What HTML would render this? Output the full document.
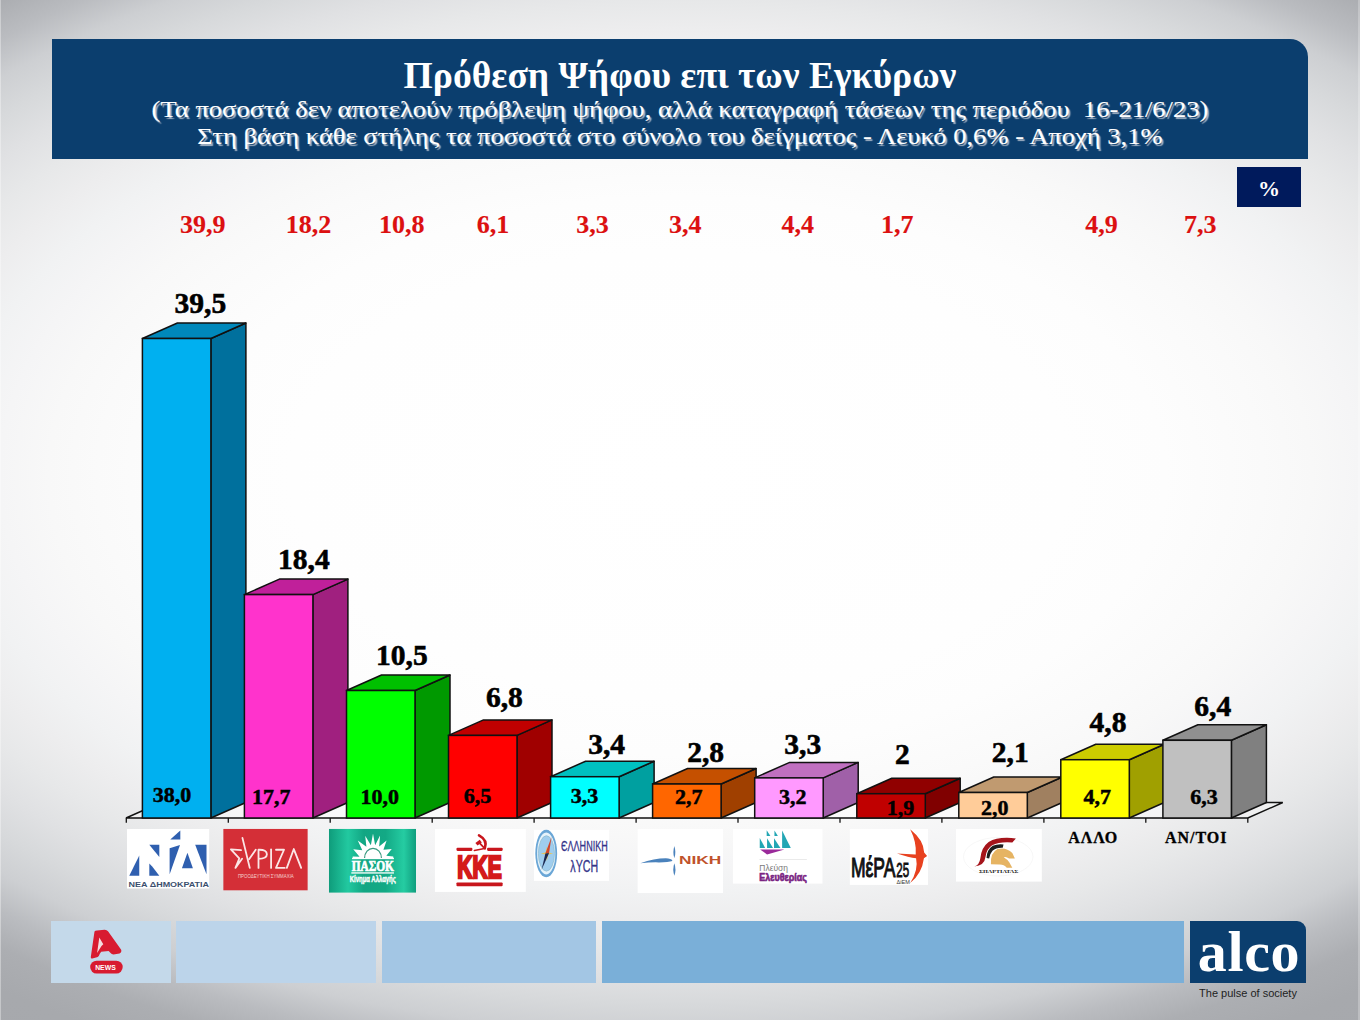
<!DOCTYPE html>
<html><head><meta charset="utf-8">
<style>
html,body{margin:0;padding:0;}
body{width:1360px;height:1020px;overflow:hidden;position:relative;
background:radial-gradient(ellipse 971px 557px at 680px 475px,rgb(255,255,255) 0%,rgb(254,254,254) 40%,rgb(253,253,253) 50%,rgb(250,250,250) 60%,rgb(248,248,248) 65%,rgb(245,245,246) 70%,rgb(241,242,243) 75%,rgb(237,237,238) 80%,rgb(231,232,233) 85%,rgb(224,225,227) 90%,rgb(215,217,219) 95%,rgb(205,207,210) 100%,rgb(186,188,192) 105%,rgb(172,174,178) 110%,rgb(167,169,173) 116%,rgb(166,168,172) 130%);
font-family:"Liberation Serif",serif;}
.abs{position:absolute;}
#tbox{left:52px;top:39px;width:1256px;height:120px;background:#0b3e6e;border-top-right-radius:18px;}
.tt{position:absolute;left:0;width:1360px;text-align:center;color:#fff;white-space:pre;}
#t1{top:54px;font-size:37.6px;font-weight:bold;}
#t2{top:96px;font-size:23.5px;transform:scaleX(1.13);transform-origin:680px 0;-webkit-text-stroke:0.1px #fff;text-shadow:1.5px 1.5px 1px rgba(195,202,214,0.85);}
#t3{top:123px;font-size:23.5px;transform:scaleX(1.13);transform-origin:680px 0;-webkit-text-stroke:0.1px #fff;text-shadow:1.5px 1.5px 1px rgba(195,202,214,0.85);}
#pct{left:1237px;top:167px;width:64px;height:40px;background:#001a5c;color:#fff;font-weight:bold;font-size:22px;text-align:center;line-height:43px;}
svg text.tl{font-family:"Liberation Serif",serif;font-weight:bold;font-size:29.5px;fill:#000;stroke:#000;stroke-width:0.6px;}
svg text.bl{font-family:"Liberation Serif",serif;font-weight:bold;font-size:22px;fill:#000;stroke:#000;stroke-width:0.5px;}
svg text.red{font-family:"Liberation Serif",serif;font-weight:bold;font-size:26px;fill:#dc1010;stroke:#dc1010;stroke-width:0.15px;}
svg text.cat{font-family:"Liberation Serif",serif;font-weight:bold;font-size:16px;letter-spacing:1px;fill:#000;stroke:#000;stroke-width:0.3px;}
.fb{position:absolute;top:921px;height:62px;}
</style></head><body>
<div class="abs" style="left:0;top:0;width:1px;height:1020px;background:rgba(255,255,255,0.35);"></div>
<div class="abs" style="left:1358px;top:0;width:2px;height:1020px;background:rgba(255,255,255,0.25);"></div>
<div id="tbox" class="abs"></div>
<div id="t1" class="tt">Πρόθεση Ψήφου επι των Εγκύρων</div>
<div id="t2" class="tt">(Τα ποσοστά δεν αποτελούν πρόβλεψη ψήφου, αλλά καταγραφή τάσεων της περιόδου  16-21/6/23)</div>
<div id="t3" class="tt">Στη βάση κάθε στήλης τα ποσοστά στο σύνολο του δείγματος - Λευκό 0,6% - Αποχή 3,1%</div>
<div id="pct" class="abs">%</div>
<div class="fb" style="left:51px;width:120px;background:#c4d9ea;"></div>
<div class="fb" style="left:176px;width:200px;background:#bcd4ea;"></div>
<div class="fb" style="left:382px;width:214px;background:#a3c6e4;"></div>
<div class="fb" style="left:602px;width:582px;background:#7aafd8;"></div>
<div class="fb" style="left:1190px;width:116px;background:#0b3e6e;border-top-right-radius:9px;"></div>
<svg class="abs" style="left:0;top:0" width="1360" height="1020" viewBox="0 0 1360 1020">
<polygon points="126.0,818.0 1247.8,818.0 1282.8,802.5 161.0,802.5" fill="rgba(255,255,255,0.35)" stroke="#111" stroke-width="1.4" stroke-linejoin="miter"/>
<line x1="126.3" y1="818.0" x2="126.3" y2="822.8" stroke="#111" stroke-width="1.3"/>
<line x1="228.3" y1="818.0" x2="228.3" y2="822.8" stroke="#111" stroke-width="1.3"/>
<line x1="330.2" y1="818.0" x2="330.2" y2="822.8" stroke="#111" stroke-width="1.3"/>
<line x1="432.2" y1="818.0" x2="432.2" y2="822.8" stroke="#111" stroke-width="1.3"/>
<line x1="534.1" y1="818.0" x2="534.1" y2="822.8" stroke="#111" stroke-width="1.3"/>
<line x1="636.1" y1="818.0" x2="636.1" y2="822.8" stroke="#111" stroke-width="1.3"/>
<line x1="738.0" y1="818.0" x2="738.0" y2="822.8" stroke="#111" stroke-width="1.3"/>
<line x1="840.0" y1="818.0" x2="840.0" y2="822.8" stroke="#111" stroke-width="1.3"/>
<line x1="941.9" y1="818.0" x2="941.9" y2="822.8" stroke="#111" stroke-width="1.3"/>
<line x1="1043.9" y1="818.0" x2="1043.9" y2="822.8" stroke="#111" stroke-width="1.3"/>
<line x1="1145.8" y1="818.0" x2="1145.8" y2="822.8" stroke="#111" stroke-width="1.3"/>
<line x1="1247.8" y1="818.0" x2="1247.8" y2="822.8" stroke="#111" stroke-width="1.3"/>
<polygon points="210.9,818.0 245.9,802.5 245.9,323.0 210.9,338.5" fill="#00709d" stroke="#111" stroke-width="1.5" stroke-linejoin="round"/>
<polygon points="142.4,338.5 210.9,338.5 245.9,323.0 177.4,323.0" fill="#0088bb" stroke="#111" stroke-width="1.5" stroke-linejoin="round"/>
<rect x="142.4" y="338.5" width="68.5" height="479.5" fill="#00b0f0" stroke="#111" stroke-width="1.5"/>
<polygon points="312.9,818.0 347.9,802.5 347.9,579.1 312.9,594.6" fill="#a0207f" stroke="#111" stroke-width="1.5" stroke-linejoin="round"/>
<polygon points="244.4,594.6 312.9,594.6 347.9,579.1 279.4,579.1" fill="#c0209a" stroke="#111" stroke-width="1.5" stroke-linejoin="round"/>
<rect x="244.4" y="594.6" width="68.5" height="223.4" fill="#ff33cc" stroke="#111" stroke-width="1.5"/>
<polygon points="415.0,818.0 450.0,802.5 450.0,675.0 415.0,690.5" fill="#009900" stroke="#111" stroke-width="1.5" stroke-linejoin="round"/>
<polygon points="346.5,690.5 415.0,690.5 450.0,675.0 381.5,675.0" fill="#00c000" stroke="#111" stroke-width="1.5" stroke-linejoin="round"/>
<rect x="346.5" y="690.5" width="68.5" height="127.5" fill="#00ff00" stroke="#111" stroke-width="1.5"/>
<polygon points="517.0,818.0 552.0,802.5 552.0,719.9 517.0,735.4" fill="#a00000" stroke="#111" stroke-width="1.5" stroke-linejoin="round"/>
<polygon points="448.5,735.4 517.0,735.4 552.0,719.9 483.5,719.9" fill="#c00000" stroke="#111" stroke-width="1.5" stroke-linejoin="round"/>
<rect x="448.5" y="735.4" width="68.5" height="82.6" fill="#ff0000" stroke="#111" stroke-width="1.5"/>
<polygon points="619.1,818.0 654.1,802.5 654.1,761.2 619.1,776.7" fill="#00a0a0" stroke="#111" stroke-width="1.5" stroke-linejoin="round"/>
<polygon points="550.6,776.7 619.1,776.7 654.1,761.2 585.6,761.2" fill="#00c0c0" stroke="#111" stroke-width="1.5" stroke-linejoin="round"/>
<rect x="550.6" y="776.7" width="68.5" height="41.3" fill="#00ffff" stroke="#111" stroke-width="1.5"/>
<polygon points="721.1,818.0 756.1,802.5 756.1,768.5 721.1,784.0" fill="#a04000" stroke="#111" stroke-width="1.5" stroke-linejoin="round"/>
<polygon points="652.6,784.0 721.1,784.0 756.1,768.5 687.6,768.5" fill="#c55000" stroke="#111" stroke-width="1.5" stroke-linejoin="round"/>
<rect x="652.6" y="784.0" width="68.5" height="34.0" fill="#ff6600" stroke="#111" stroke-width="1.5"/>
<polygon points="823.2,818.0 858.2,802.5 858.2,762.4 823.2,777.9" fill="#a060a8" stroke="#111" stroke-width="1.5" stroke-linejoin="round"/>
<polygon points="754.7,777.9 823.2,777.9 858.2,762.4 789.7,762.4" fill="#c070c0" stroke="#111" stroke-width="1.5" stroke-linejoin="round"/>
<rect x="754.7" y="777.9" width="68.5" height="40.1" fill="#ff99ff" stroke="#111" stroke-width="1.5"/>
<polygon points="925.2,818.0 960.2,802.5 960.2,778.2 925.2,793.7" fill="#800000" stroke="#111" stroke-width="1.5" stroke-linejoin="round"/>
<polygon points="856.8,793.7 925.2,793.7 960.2,778.2 891.8,778.2" fill="#900000" stroke="#111" stroke-width="1.5" stroke-linejoin="round"/>
<rect x="856.8" y="793.7" width="68.5" height="24.3" fill="#c00000" stroke="#111" stroke-width="1.5"/>
<polygon points="1027.3,818.0 1062.3,802.5 1062.3,777.0 1027.3,792.5" fill="#a08060" stroke="#111" stroke-width="1.5" stroke-linejoin="round"/>
<polygon points="958.8,792.5 1027.3,792.5 1062.3,777.0 993.8,777.0" fill="#c09a70" stroke="#111" stroke-width="1.5" stroke-linejoin="round"/>
<rect x="958.8" y="792.5" width="68.5" height="25.5" fill="#ffcc99" stroke="#111" stroke-width="1.5"/>
<polygon points="1129.3,818.0 1164.3,802.5 1164.3,744.2 1129.3,759.7" fill="#a0a000" stroke="#111" stroke-width="1.5" stroke-linejoin="round"/>
<polygon points="1060.8,759.7 1129.3,759.7 1164.3,744.2 1095.8,744.2" fill="#cccc00" stroke="#111" stroke-width="1.5" stroke-linejoin="round"/>
<rect x="1060.8" y="759.7" width="68.5" height="58.3" fill="#ffff00" stroke="#111" stroke-width="1.5"/>
<polygon points="1231.4,818.0 1266.4,802.5 1266.4,724.8 1231.4,740.3" fill="#808080" stroke="#111" stroke-width="1.5" stroke-linejoin="round"/>
<polygon points="1162.9,740.3 1231.4,740.3 1266.4,724.8 1197.9,724.8" fill="#909090" stroke="#111" stroke-width="1.5" stroke-linejoin="round"/>
<rect x="1162.9" y="740.3" width="68.5" height="77.7" fill="#c0c0c0" stroke="#111" stroke-width="1.5"/>
<text x="200.4" y="313.0" class="tl" text-anchor="middle">39,5</text>
<text x="172.0" y="801.9" class="bl" text-anchor="middle">38,0</text>
<text x="303.85" y="569.2" class="tl" text-anchor="middle">18,4</text>
<text x="271.3" y="803.7" class="bl" text-anchor="middle">17,7</text>
<text x="401.9" y="664.9" class="tl" text-anchor="middle">10,5</text>
<text x="379.7" y="803.7" class="bl" text-anchor="middle">10,0</text>
<text x="504.35" y="706.8" class="tl" text-anchor="middle">6,8</text>
<text x="477.45" y="803.2" class="bl" text-anchor="middle">6,5</text>
<text x="606.6" y="754.0" class="tl" text-anchor="middle">3,4</text>
<text x="584.4" y="803.2" class="bl" text-anchor="middle">3,3</text>
<text x="705.65" y="761.6" class="tl" text-anchor="middle">2,8</text>
<text x="688.85" y="803.7" class="bl" text-anchor="middle">2,7</text>
<text x="802.8" y="754.0" class="tl" text-anchor="middle">3,3</text>
<text x="792.75" y="803.7" class="bl" text-anchor="middle">3,2</text>
<text x="902.35" y="763.7" class="tl" text-anchor="middle">2</text>
<text x="900.6" y="814.8" class="bl" text-anchor="middle">1,9</text>
<text x="1010.25" y="761.6" class="tl" text-anchor="middle">2,1</text>
<text x="994.8" y="814.5" class="bl" text-anchor="middle">2,0</text>
<text x="1108.05" y="732.0" class="tl" text-anchor="middle">4,8</text>
<text x="1097.35" y="804.0" class="bl" text-anchor="middle">4,7</text>
<text x="1212.8" y="715.5" class="tl" text-anchor="middle">6,4</text>
<text x="1203.95" y="804.0" class="bl" text-anchor="middle">6,3</text>
<text x="202.7" y="232.8" class="red" text-anchor="middle">39,9</text>
<text x="308.5" y="232.8" class="red" text-anchor="middle">18,2</text>
<text x="401.7" y="232.8" class="red" text-anchor="middle">10,8</text>
<text x="493.0" y="232.8" class="red" text-anchor="middle">6,1</text>
<text x="592.6" y="232.8" class="red" text-anchor="middle">3,3</text>
<text x="685.3" y="232.8" class="red" text-anchor="middle">3,4</text>
<text x="797.8" y="232.8" class="red" text-anchor="middle">4,4</text>
<text x="897.2" y="232.8" class="red" text-anchor="middle">1,7</text>
<text x="1101.6" y="232.8" class="red" text-anchor="middle">4,9</text>
<text x="1200.3" y="232.8" class="red" text-anchor="middle">7,3</text>
<text x="1093.2" y="842.6" class="cat" text-anchor="middle">ΑΛΛΟ</text>
<text x="1196.2" y="842.6" class="cat" text-anchor="middle">ΑΝ/ΤΟΙ</text>
<svg x="127" y="828.9" width="82.4" height="59.8" viewBox="30 45 1275 925" preserveAspectRatio="none"><rect x="30" y="45" width="1275" height="925" fill="#ffffff"/>
<g fill="#2f5faf">
<polygon points="65,770 220,455 220,770"/>
<polygon points="375,290 530,290 530,480"/>
<polygon points="375,580 420,625 530,770 375,770"/>
<polygon points="690,345 850,295 690,745"/>
<polygon points="700,210 855,70 855,210"/>
<polygon points="880,655 965,415 1050,655"/>
<polygon points="1085,290 1260,290 1260,745"/>
</g>
<text x="55" y="945" font-family="Liberation Sans, sans-serif" font-weight="bold" font-size="122" fill="#3b4f6e" textLength="1245" lengthAdjust="spacingAndGlyphs">ΝΕΑ ΔΗΜΟΚΡΑΤΙΑ</text>
</svg>
<svg x="223.2" y="828.8" width="84.6" height="61.8" viewBox="75 40 1210 885" preserveAspectRatio="none"><rect x="75" y="40" width="1210" height="885" fill="#d42f37"/>
<g fill="none" stroke="#fbe6e6" stroke-width="26" stroke-linecap="round" stroke-linejoin="round">
<polyline points="330,345 185,335 305,465 250,600 345,470"/>
<line x1="350" y1="170" x2="455" y2="600"/>
<line x1="540" y1="340" x2="445" y2="475"/>
<path d="M580,600 L580,340 Q700,335 700,405 Q700,470 580,470"/>
<line x1="760" y1="335" x2="760" y2="600"/>
<polyline points="830,340 945,340 830,600 955,600"/>
<polyline points="985,600 1085,330 1190,600"/>
</g>
<text x="285" y="745" font-family="Liberation Sans, sans-serif" font-size="70" fill="#f4d0d0" textLength="800" lengthAdjust="spacingAndGlyphs">ΠΡΟΟΔΕΥΤΙΚΗ ΣΥΜΜΑΧΙΑ</text>
</svg>
<svg x="328.9" y="828.8" width="87.1" height="64.0" viewBox="80 65 1185 870" preserveAspectRatio="none">
<defs><linearGradient id="pg" x1="0" y1="0" x2="1" y2="0">
<stop offset="0" stop-color="#0f9c7b"/><stop offset="0.22" stop-color="#22c9a0"/><stop offset="0.4" stop-color="#12a683"/><stop offset="0.65" stop-color="#13a985"/><stop offset="0.86" stop-color="#25cca2"/><stop offset="1" stop-color="#109e7e"/></linearGradient></defs>
<rect x="80" y="65" width="1185" height="870" fill="url(#pg)"/>
<polygon points="400,470 405,440 497,444 411,344 534,356 473,223 590,308 574,161 651,287 680,130 709,287 776,155 764,305 865,225 822,351 935,340 861,432 955,440 960,470" fill="#ffffff"/>
<path d="M565,465 A115,135 0 0 1 795,465" fill="none" stroke="#3a9a80" stroke-width="16"/>
<rect x="395" y="462" width="570" height="16" fill="#ffffff"/>
<text x="390" y="635" font-family="Liberation Serif, serif" font-weight="bold" font-size="190" fill="#ffffff" stroke="#ffffff" stroke-width="10" textLength="575" lengthAdjust="spacingAndGlyphs">ΠΑΣΟΚ</text>
<rect x="385" y="656" width="580" height="18" fill="#ffffff"/>
<text x="365" y="785" font-family="Liberation Sans, sans-serif" font-weight="bold" font-size="120" fill="#ffffff" stroke="#ffffff" stroke-width="6" textLength="625" lengthAdjust="spacingAndGlyphs">Κίνημα Αλλαγής</text>
</svg>
<svg x="434.7" y="828.9" width="91.2" height="63.0" viewBox="90 65 1215 840" preserveAspectRatio="none"><rect x="90" y="65" width="1215" height="840" fill="#ffffff"/>
<g fill="#c8161d">
<rect x="380" y="316" width="212" height="42" rx="14"/>
<rect x="788" y="316" width="208" height="42" rx="14"/>
<rect x="380" y="778" width="615" height="50" rx="12"/>
<polygon points="632,252 690,208 718,246 660,285"/>
</g>
<g fill="none" stroke="#c8161d" stroke-linecap="round">
<path d="M680,150 Q800,215 758,322" stroke-width="34"/>
<path d="M752,325 Q690,340 618,352" stroke-width="20"/>
<path d="M680,245 L758,328" stroke-width="24"/>
</g>
<text x="392" y="722" font-family="Liberation Sans, sans-serif" font-weight="bold" font-size="420" fill="#d41a1a" stroke="#d41a1a" stroke-width="34" stroke-linejoin="miter" textLength="590" lengthAdjust="spacingAndGlyphs">ΚΚΕ</text>
</svg>
<svg x="534" y="829.6" width="75.0" height="51.3" viewBox="90 85 1135 775" preserveAspectRatio="none"><rect x="90" y="85" width="1135" height="775" fill="#ffffff"/>
<ellipse cx="275" cy="445" rx="165" ry="360" fill="#6aa6d6"/>
<ellipse cx="275" cy="445" rx="138" ry="318" fill="#e6f3fb"/>
<ellipse cx="278" cy="445" rx="122" ry="268" fill="#9fcdee"/>
<ellipse cx="278" cy="445" rx="122" ry="268" fill="none" stroke="#8ab8c8" stroke-width="10"/>
<polygon points="285,340 305,430 380,445 305,462 285,560 265,462 190,445 265,430" fill="#e6c45a"/>
<polygon points="355,195 318,440 262,447" fill="#d2452a"/>
<polygon points="262,447 318,440 205,690" fill="#1b2750"/>
<text x="500" y="410" font-family="Liberation Sans, sans-serif" font-size="225" fill="#34348a" stroke="#34348a" stroke-width="5" textLength="705" lengthAdjust="spacingAndGlyphs">ЄΛΛΗΝΙΚΗ</text>
<text x="640" y="720" font-family="Liberation Sans, sans-serif" font-size="250" fill="#34348a" stroke="#34348a" stroke-width="5" textLength="420" lengthAdjust="spacingAndGlyphs">λΥCΗ</text>
</svg>
<svg x="637.4" y="829.1" width="85.6" height="64.0" viewBox="100 70 1165 870" preserveAspectRatio="none"><rect x="100" y="70" width="1165" height="870" fill="#ffffff"/>
<g fill="#4a82bc">
<path d="M603,300 Q630,390 603,465 Q576,390 603,300 Z"/>
<path d="M603,535 Q632,620 603,705 Q574,620 603,535 Z"/>
<path d="M140,535 Q350,460 520,468 Q580,480 575,505 Q520,525 350,522 Q250,525 140,535 Z"/>
</g>
<text x="665" y="550" font-family="Liberation Sans, sans-serif" font-weight="bold" font-size="146" fill="#c0522c" textLength="575" lengthAdjust="spacingAndGlyphs">ΝΙΚΗ</text>
</svg>
<svg x="732.7" y="829" width="90.0" height="54.8" viewBox="100 90 1165 710" preserveAspectRatio="none"><rect x="100" y="90" width="1165" height="710" fill="#ffffff"/>
<g fill="#22a6b4">
<polygon points="450,205 450,335 520,335"/>
<polygon points="540,105 540,180 588,180"/>
<polygon points="640,110 640,180 685,180"/>
<polygon points="545,210 545,335 622,335"/>
<polygon points="635,210 635,335 718,335"/>
<polygon points="740,110 740,335 852,335"/>
</g>
<polygon points="455,355 770,355 545,422" fill="#9a2a9a"/>
<rect x="445" y="480" width="615" height="8" fill="#dddddd"/>
<text x="445" y="640" font-family="Liberation Sans, sans-serif" font-size="125" fill="#7a7a7a" textLength="370" lengthAdjust="spacingAndGlyphs">Πλεύση</text>
<text x="445" y="770" font-family="Liberation Sans, sans-serif" font-weight="bold" font-size="130" fill="#7a2382" stroke="#7a2382" stroke-width="8" textLength="615" lengthAdjust="spacingAndGlyphs">Ελευθερίας</text>
</svg>
<svg x="849.6" y="829" width="78.6" height="55.9" viewBox="130 95 1070 760" preserveAspectRatio="none"><rect x="130" y="95" width="1070" height="760" fill="#ffffff"/>
<path d="M955,100 Q1140,250 1145,415 L1185,462 L1142,492 Q1115,700 955,830 Q1070,650 1035,492 Q940,482 775,428 Q900,436 1030,442 Q1045,280 955,100 Z" fill="#e8411f"/>
<text x="148" y="745" font-family="Liberation Sans, sans-serif" font-size="385" fill="#111111" stroke="#111111" stroke-width="16" textLength="605" lengthAdjust="spacingAndGlyphs">ΜέΡΑ</text>
<text x="765" y="745" font-family="Liberation Sans, sans-serif" font-size="275" fill="#111111" stroke="#111111" stroke-width="12" textLength="175" lengthAdjust="spacingAndGlyphs">25</text>
<text x="770" y="840" font-family="Liberation Sans, sans-serif" font-size="70" fill="#333333" textLength="180" lengthAdjust="spacingAndGlyphs">ΔiEM</text>
</svg>
<svg x="955.8" y="829" width="86.1" height="52.8" viewBox="140 90 1115 685" preserveAspectRatio="none"><rect x="140" y="90" width="1115" height="685" fill="#ffffff"/>
<ellipse cx="690" cy="450" rx="450" ry="250" fill="none" stroke="#f2f2f2" stroke-width="8"/>
<path d="M380,578 Q445,560 458,470 Q470,330 565,258 Q690,185 918,212 L872,265 Q705,252 612,300 Q538,345 525,450 Q512,565 380,578 Z" fill="#a5141b"/>
<path d="M538,465 Q542,360 618,308 Q680,280 758,290 L748,332 Q662,328 615,372 Q575,418 572,472 Z" fill="#1e1e1e"/>
<path d="M595,548 Q585,400 680,350 Q790,320 872,402 L905,472 L830,472 Q792,444 760,456 Q805,482 832,522 L872,592 L800,592 Q760,545 700,550 Z" fill="#e6b463"/>
<text x="440" y="665" font-family="Liberation Serif, serif" font-weight="bold" font-size="56" fill="#1a1a1a" textLength="510" lengthAdjust="spacingAndGlyphs">ΣΠΑΡΤΙΑΤΑΣ</text>
</svg>
<g>
<path d="M94.5,931.4 Q95,930.6 97,930.4 L104.5,929.7 Q106.8,929.6 108,931.3 L121,949.5 Q122.2,951.8 119.5,953.6 L113.5,954.5 Q111.5,954.4 110.6,953 L108.6,951 L101.2,951.8 L99.8,953.8 L98.8,956.1 Q98,957.2 96,957.6 L92.3,958.5 Q90.6,958.7 90.8,957 Z" fill="#d81b30"/>
<polygon points="99.3,937.4 103.3,944.2 101.5,946 97.1,953" fill="#f4dde0"/>
<rect x="90.2" y="960.7" width="32.5" height="12.8" rx="6.4" fill="#d81b30"/>
<text x="95.2" y="969.8" font-family="Liberation Sans, sans-serif" font-weight="bold" font-size="8" fill="#ffffff" textLength="20.5" lengthAdjust="spacingAndGlyphs">NEWS</text>
</g>
</svg>
<div class="abs" style="left:1190px;top:921px;width:116px;height:62px;color:#fff;font-size:58px;font-weight:bold;text-align:center;line-height:62px;letter-spacing:0.6px;text-indent:2px;">alco</div>
<div class="abs" style="left:1190px;top:987px;width:116px;color:#1e1e1e;font-family:'Liberation Sans',sans-serif;font-size:11px;text-align:center;">The pulse of society</div>
</body></html>
